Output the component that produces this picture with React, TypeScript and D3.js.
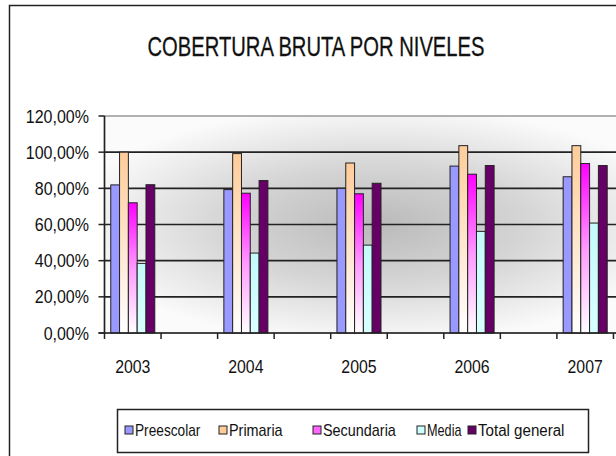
import React from "react";
import * as d3 from "d3";

const years = ["2003", "2004", "2005", "2006", "2007"];
const seriesNames = ["Preescolar", "Primaria", "Secundaria", "Media", "Total general"];
const preescolar = [81.9, 79.3, 80.0, 92.3, 86.4];
const primaria = [100.0, 99.2, 94.0, 103.6, 103.6];
const secundaria = [72.0, 77.3, 77.0, 87.8, 93.7];
const media = [38.5, 44.2, 48.6, 56.2, 60.8];
const totalGeneral = [82.0, 84.3, 82.8, 92.6, 92.6];
const yTicks = [0, 20, 40, 60, 80, 100, 120];

const seriesValues = [preescolar, primaria, secundaria, media, totalGeneral];
const FONT = "'Liberation Sans', Arial, sans-serif";

function NText({ x, y, sx = 0.88, size, anchor = "start", children, tl }:
  { x: number; y: number; sx?: number; size: number; anchor?: string; children: React.ReactNode; tl?: number }) {
  return (
    <g transform={`translate(${x},${y}) scale(${sx},1)`}>
      <text x={0} y={0} textAnchor={anchor} fontFamily={FONT} fontSize={size} fill="#111"
        textLength={tl} lengthAdjust={tl ? "spacingAndGlyphs" : undefined}>{children}</text>
    </g>
  );
}

export default function App() {
  const W = 616, H = 456;
  const left = 104.5, right = 670, top = 116, bottom = 333;
  // slots: each year followed by an empty gap slot
  const slots = years.flatMap((y) => [y, "_" + y]);
  const x = d3.scaleBand<string>().domain(slots).range([left, right]);
  const inner = d3.scaleBand<string>().domain(seriesNames).range([0, x.bandwidth()]).paddingOuter(0.71);
  const y = d3.scaleLinear().domain([0, 120]).range([bottom, top]);
  const fills = ["#9999FF", "url(#gPrim)", "url(#gSec)", "url(#gMed)", "#660066"];
  const legendFills = ["#9999FF", "#FFCC99", "#FF66FF", "#CCFFFF", "#660066"];
  const legendX = [125, 219, 313, 417, 468];
  const legendSX = [0.95, 1, 1, 0.88, 1.05];
  const fmt = (v: number) => d3.format(".2f")(v).replace(".", ",") + "%";
  const tickXs = d3.range(slots.length + 1).map((i) => left + i * x.step());

  return (
    <svg width={W} height={H} style={{ position: "absolute", left: 0, top: 0 }}>
      <defs>
        <radialGradient id="bg" cx="0.48" cy="0.5" r="0.55" fx="0.48" fy="0.5">
          <stop offset="0" stopColor="#bababa" />
          <stop offset="0.5" stopColor="#d6d6d6" />
          <stop offset="1" stopColor="#fbfbfb" />
        </radialGradient>
        <linearGradient id="gPrim" x1="0" y1="0" x2="0" y2="1">
          <stop offset="0" stopColor="#FFCC99" />
          <stop offset="1" stopColor="#FFFFFF" />
        </linearGradient>
        <linearGradient id="gSec" x1="0" y1="0" x2="0" y2="1">
          <stop offset="0" stopColor="#FF00FF" />
          <stop offset="0.5" stopColor="#FF99FF" />
          <stop offset="1" stopColor="#FFFFFF" />
        </linearGradient>
        <linearGradient id="gMed" x1="0" y1="0" x2="0" y2="1">
          <stop offset="0" stopColor="#C4FAFA" />
          <stop offset="1" stopColor="#D8FFFF" />
        </linearGradient>
      </defs>
      <rect x={0} y={0} width={W} height={H} fill="#fff" />
      <rect x={9.5} y={5.5} width={W + 20} height={H + 20} fill="#fff" stroke="#222" strokeWidth={1.5} />
      <text x={316} y={56} textAnchor="middle" fontFamily={FONT} fontSize={28} fill="#111"
        stroke="#111" strokeWidth={0.3}
        textLength={337} lengthAdjust="spacingAndGlyphs">COBERTURA BRUTA POR NIVELES</text>

      {/* plot background */}
      <rect x={left} y={top} width={right - left} height={bottom - top} fill="url(#bg)" />
      <rect x={left} y={top} width={right - left} height={bottom - top} fill="none" stroke="#999" strokeWidth={1.5} />
      {yTicks.filter((t) => t > 0 && t < 120).map((t) => (
        <line key={t} x1={left} x2={right} y1={y(t)} y2={y(t)} stroke="#222" strokeWidth={1.6} />
      ))}

      {/* bars */}
      {years.map((yr, i) => (
        <g key={yr} transform={`translate(${x(yr)},0)`}>
          {seriesNames.map((s, j) => (
            <rect key={s} x={inner(s)} y={y(seriesValues[j][i])} width={inner.bandwidth()}
              height={bottom - y(seriesValues[j][i])} fill={fills[j]} stroke="#222" strokeWidth={1} />
          ))}
        </g>
      ))}

      {/* axes */}
      <line x1={left} x2={left} y1={top} y2={bottom} stroke="#222" strokeWidth={1.5} />
      <line x1={left - 6} x2={right} y1={bottom} y2={bottom} stroke="#222" strokeWidth={1.5} />
      {yTicks.map((t) => (
        <g key={t}>
          <line x1={left - 6} x2={left} y1={y(t)} y2={y(t)} stroke="#222" strokeWidth={1.5} />
          <NText x={89} y={y(t) + 6.5} size={18} sx={0.89} anchor="end">{fmt(t)}</NText>
        </g>
      ))}
      {tickXs.map((tx, i) => (
        <line key={i} x1={tx} x2={tx} y1={bottom} y2={bottom + 6} stroke="#222" strokeWidth={1.5} />
      ))}
      {years.map((yr) => (
        <NText key={yr} x={(x(yr) as number) + x.bandwidth() / 2} y={373} size={18} sx={0.88} anchor="middle">{yr}</NText>
      ))}

      {/* legend */}
      <rect x={117.5} y={409.5} width={471} height={43} fill="#fff" stroke="#222" strokeWidth={1.5} />
      {seriesNames.map((s, j) => (
        <g key={s}>
          <rect x={legendX[j]} y={426} width={8} height={8} fill={legendFills[j]} stroke="#222" strokeWidth={1} />
          <NText x={legendX[j] + 10} y={436} size={16} sx={legendSX[j] * 0.9}>{s}</NText>
        </g>
      ))}
    </svg>
  );
}
